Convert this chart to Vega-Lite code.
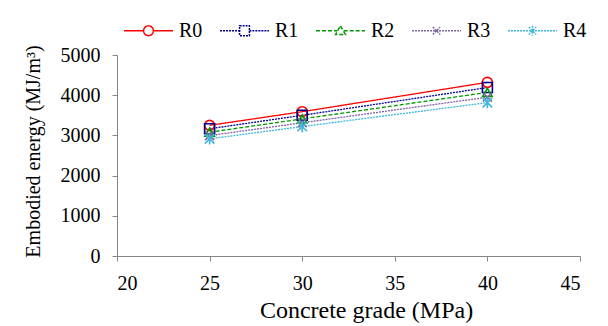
{
  "$schema": "https://vega.github.io/schema/vega-lite/v6.json",
  "width": 463,
  "height": 201,
  "autosize": {"type": "none"},
  "padding": {"left": 117, "top": 55, "right": 28, "bottom": 70},
  "background": "white",
  "config": {
    "view": {"stroke": null},
    "font": "Liberation Serif",
    "axis": {
      "grid": false,
      "domainColor": "#868686",
      "tickColor": "#868686",
      "labelFont": "Liberation Serif",
      "labelFontSize": 20,
      "labelColor": "#000000",
      "titleFont": "Liberation Serif",
      "titleFontSize": 20,
      "titleFontWeight": "normal",
      "titleColor": "#000000",
      "tickSize": 5
    },
    "legend": {
      "labelFont": "Liberation Serif",
      "labelFontSize": 20,
      "labelColor": "#000000"
    }
  },
  "data": {
    "values": [
      {"grade": 25, "series": "R0", "energy": 3250},
      {"grade": 30, "series": "R0", "energy": 3590},
      {"grade": 40, "series": "R0", "energy": 4320},
      {"grade": 25, "series": "R1", "energy": 3165},
      {"grade": 30, "series": "R1", "energy": 3500},
      {"grade": 40, "series": "R1", "energy": 4190},
      {"grade": 25, "series": "R2", "energy": 3080},
      {"grade": 30, "series": "R2", "energy": 3410},
      {"grade": 40, "series": "R2", "energy": 4070},
      {"grade": 25, "series": "R3", "energy": 2995},
      {"grade": 30, "series": "R3", "energy": 3315},
      {"grade": 40, "series": "R3", "energy": 3950},
      {"grade": 25, "series": "R4", "energy": 2915},
      {"grade": 30, "series": "R4", "energy": 3220},
      {"grade": 40, "series": "R4", "energy": 3815}
    ]
  },
  "encoding": {
    "x": {
      "field": "grade",
      "type": "quantitative",
      "scale": {"domain": [20, 45], "nice": false, "zero": false},
      "axis": {"values": [20, 25, 30, 35, 40, 45], "title": "Concrete grade (MPa)", "labelPadding": 12, "titlePadding": 5, "titleFontSize": 24, "titleX": 249}
    },
    "y": {
      "field": "energy",
      "type": "quantitative",
      "scale": {"domain": [0, 5000], "nice": false},
      "axis": {"values": [0, 1000, 2000, 3000, 4000, 5000], "format": "d", "title": "Embodied energy (MJ/m³)", "labelPadding": 12, "titlePadding": 17, "titleY": 96}
    },
    "color": {
      "field": "series",
      "type": "nominal",
      "scale": {"domain": ["R0", "R1", "R2", "R3", "R4"], "range": ["#FF0000", "#00008B", "#009900", "#8064A2", "#3FB6DC"]},
      "legend": {
        "orient": "none",
        "direction": "horizontal",
        "legendX": 6,
        "legendY": -50,
        "title": null,
        "padding": 0,
        "symbolSize": 2401,
        "symbolStrokeWidth": 1.5,
        "labelOffset": 5,
        "columnPadding": 14,
        "encode": {
          "symbols": {
            "update": {
              "fill": {"value": "transparent"},
              "shape": {"signal": "datum.value === 'R0' ? 'M-1,0L-0.2,0M0.2,0L1,0M0.2,0A0.2,0.2,0,1,1,-0.2,0A0.2,0.2,0,1,1,0.2,0' : datum.value === 'R1' ? 'M-1,0L-0.2,0M0.2,0L1,0M-0.2,-0.2L0.2,-0.2L0.2,0.2L-0.2,0.2Z' : datum.value === 'R2' ? 'M-1,0L-0.13,0M0.13,0L1,0M0,-0.2L0.2,0.15L-0.2,0.15Z' : datum.value === 'R3' ? 'M-1,0L1,0M-0.15,-0.15L0.15,0.15M-0.15,0.15L0.15,-0.15' : 'M-1,0L1,0M-0.15,-0.15L0.15,0.15M-0.15,0.15L0.15,-0.15M0,-0.2L0,0.2'"}
            }
          }
        }
      }
    }
  },
  "layer": [
    {
      "mark": {"type": "line", "strokeWidth": 1.3},
      "encoding": {
        "strokeDash": {
          "field": "series",
          "type": "nominal",
          "scale": {"domain": ["R0", "R1", "R2", "R3", "R4"], "range": [[1, 0], [2, 1], [4, 2], [2, 1], [2, 1]]},
          "legend": null
        }
      }
    },
    {
      "transform": [{"filter": "datum.series === 'R0'"}],
      "mark": {"type": "point", "shape": "circle", "filled": false, "size": 100, "strokeWidth": 1.6, "opacity": 1}
    },
    {
      "transform": [{"filter": "datum.series === 'R1'"}],
      "mark": {"type": "point", "shape": "square", "filled": false, "size": 100, "strokeWidth": 1.6, "opacity": 1}
    },
    {
      "transform": [{"filter": "datum.series === 'R2'"}],
      "mark": {"type": "point", "shape": "triangle-up", "filled": false, "size": 90, "strokeWidth": 1.6, "opacity": 1}
    },
    {
      "transform": [{"filter": "datum.series === 'R3'"}],
      "mark": {"type": "point", "shape": "M-1,-1L1,1M-1,1L1,-1", "filled": false, "size": 80, "strokeWidth": 1.6, "opacity": 1}
    },
    {
      "transform": [{"filter": "datum.series === 'R4'"}],
      "mark": {"type": "point", "shape": "M-1,-1L1,1M-1,1L1,-1M0,-1.2L0,1.2", "filled": false, "size": 90, "strokeWidth": 1.6, "opacity": 1}
    }
  ]
}
